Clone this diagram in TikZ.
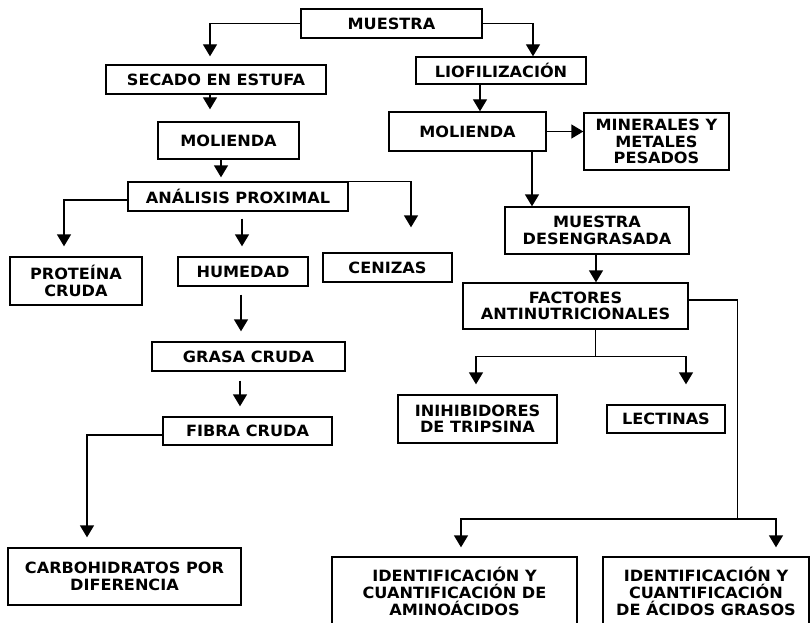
\documentclass[tikz,border=0pt]{standalone}
\usepackage{fontspec}
\setmainfont{DejaVu Sans}[FakeStretch=1.04]
\usetikzlibrary{arrows.meta}
\begin{document}
\begin{tikzpicture}[x=1pt,y=-1pt,
  box/.style={draw, line width=1.4pt, inner sep=0pt, align=center,
    font=\bfseries\fontsize{15.5}{16.7}\selectfont},
  arr/.style={line width=1.4pt, -{Triangle[width=14pt,length=12pt]}},
  ln/.style={line width=1.4pt}]
\useasboundingbox (0,0) rectangle (811,623);
\fill[white] (0,0) rectangle (811,623);
% boxes
\node[box, minimum width=181pt, minimum height=29pt] (muestra) at (391.5,23.5) {MUESTRA};
\node[box, minimum width=220pt, minimum height=29pt] (secado) at (216,79.5) {SECADO EN ESTUFA};
\node[box, minimum width=170pt, minimum height=27pt] (lio) at (501,70.5) {LIOFILIZACIÓN};
\node[box, minimum width=141pt, minimum height=37pt] (mol1) at (228.5,140.5) {MOLIENDA};
\node[box, minimum width=157pt, minimum height=39pt] (mol2) at (467.5,131.5) {MOLIENDA};
\node[box, minimum width=145pt, minimum height=57pt] (min) at (656.5,141.5) {MINERALES Y\\METALES\\PESADOS};
\node[box, minimum width=220pt, minimum height=29pt] (ana) at (238,196.5) {ANÁLISIS PROXIMAL};
\node[box, minimum width=132pt, minimum height=48pt] (prot) at (76,281) {PROTEÍNA\\CRUDA};
\node[box, minimum width=130pt, minimum height=29pt] (hum) at (243,271.5) {HUMEDAD};
\node[box, minimum width=129pt, minimum height=29pt] (cen) at (387.5,267.5) {CENIZAS};
\node[box, minimum width=184pt, minimum height=47pt] (mdes) at (597,230.5) {MUESTRA\\DESENGRASADA};
\node[box, minimum width=225pt, minimum height=46pt] (fac) at (575.5,306) {FACTORES\\ANTINUTRICIONALES};
\node[box, minimum width=193pt, minimum height=29pt] (grasa) at (248.5,356.5) {GRASA CRUDA};
\node[box, minimum width=159pt, minimum height=48pt] (inh) at (477.5,419) {INIHIBIDORES\\DE TRIPSINA};
\node[box, minimum width=118pt, minimum height=28pt] (lect) at (666,419) {LECTINAS};
\node[box, minimum width=169pt, minimum height=28pt] (fibra) at (247.5,431) {FIBRA CRUDA};
\node[box, minimum width=233pt, minimum height=57pt] (carb) at (124.5,576.5) {CARBOHIDRATOS POR\\DIFERENCIA};
\node[box, minimum width=245pt, minimum height=69pt] (aa) at (454.5,591.5) {IDENTIFICACIÓN Y\\CUANTIFICACIÓN DE\\AMINOÁCIDOS};
\node[box, minimum width=206pt, minimum height=69pt] (fa) at (706,591.5) {IDENTIFICACIÓN Y\\CUANTIFICACIÓN\\DE ÁCIDOS GRASOS};
% connectors
\draw[arr, shorten >=8pt] (muestra.west) -| ([xshift=-6pt]secado.north);
\draw[arr] (muestra.east) -| ([xshift=32pt]lio.north);
\draw[arr, shorten >=12pt] ([xshift=-6pt]secado.south) -- ([xshift=-18.5pt]mol1.north);
\draw[arr, shorten >=4pt] ([xshift=-7.5pt]mol1.south) -- ([xshift=-17pt]ana.north);
\draw[arr, shorten >=10pt] ([yshift=-3.5pt]ana.west) -| ([xshift=-12pt]prot.north);
\draw[arr, shorten >=25pt] (ana.north east) -| ([xshift=23.5pt]cen.north);
\draw[arr, shorten <=7pt, shorten >=10pt] ([xshift=4pt]ana.south) -- ([xshift=-1pt]hum.north);
\draw[arr, shorten <=8pt, shorten >=10pt] ([xshift=-2pt]hum.south) -- ([xshift=-7.5pt]grasa.north);
\draw[arr, shorten <=9pt, shorten >=10pt] ([xshift=-8.5pt]grasa.south) -- ([xshift=-7.5pt]fibra.north);
\draw[arr, shorten >=10pt] ([yshift=-4pt]fibra.west) -| ([xshift=-37.5pt]carb.north);
\draw[arr] ([xshift=-21pt]lio.south) -- ([xshift=12.5pt]mol2.north);
\draw[arr] (mol2.east) -- (min.west |- mol2.east);
\draw[arr] ([xshift=64.5pt]mol2.south) -- ([xshift=-65pt]mdes.north);
\draw[arr] ([xshift=-1pt]mdes.south) -- ([xshift=20.5pt]fac.north);
\draw[ln] ([xshift=20pt]fac.south) -- ++(0,27) coordinate (fj);
\draw[arr, shorten >=10pt] (fj) -| ([xshift=-1.5pt]inh.north);
\draw[arr, shorten >=20pt] (fj) -| ([xshift=20pt]lect.north);
\draw[ln] ([yshift=6pt]fac.east) -- ++(49,0) -- ++(0,219) coordinate (fk);
\draw[arr, shorten >=9pt] (fk) -| ([xshift=6.5pt]aa.north);
\draw[arr, shorten >=9pt] (fk) -| ([xshift=70pt]fa.north);
\end{tikzpicture}
\end{document}
